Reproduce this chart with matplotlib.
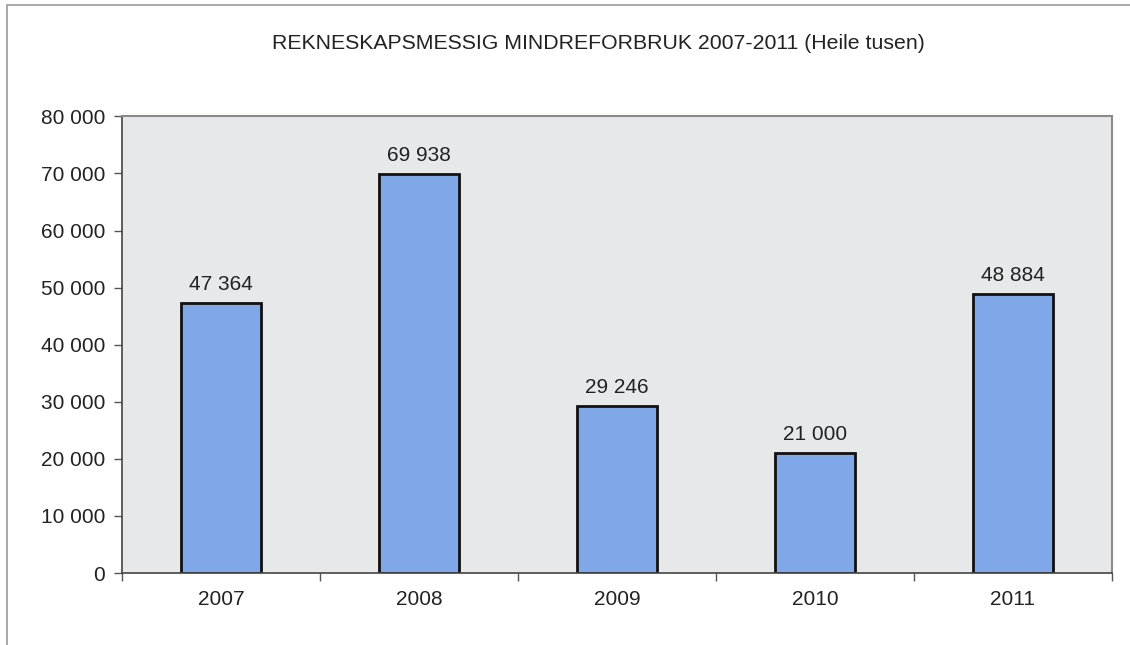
import numpy as np
import matplotlib
matplotlib.use("Agg")
import matplotlib.pyplot as plt
from matplotlib.ticker import FuncFormatter, FixedLocator

plt.rcParams['font.family'] = ['Liberation Sans', 'DejaVu Sans']

years = ['2007', '2008', '2009', '2010', '2011']
values = [47364, 69938, 29246, 21000, 48884]
title = 'REKNESKAPSMESSIG MINDREFORBRUK 2007-2011 (Heile tusen)'


def space_thousands(v, pos=None):
    return '{:,.0f}'.format(v).replace(',', ' ')


fig = plt.figure(figsize=(11.3, 6.45), dpi=100)

# outer chart frame
frame = plt.Rectangle((0.006, -0.01), 1.2, 1.002, transform=fig.transFigure,
                      fill=False, edgecolor='#9a9a9a', linewidth=1.2)
fig.patches.append(frame)

ax = fig.add_axes([0.108, 0.1116, 0.876, 0.708])
ax.set_facecolor('#e6e8ea')

x = np.arange(len(years))
ax.bar(x, values, width=0.4, color='#80a8e8', edgecolor='#111111', linewidth=2)

for xi, v in zip(x, values):
    ax.text(xi, v + 1600, space_thousands(v), ha='center', va='bottom', fontsize=15,
            color='#222222')

ax.set_xlim(-0.5, len(years) - 0.5)
ax.set_ylim(0, 80000)
ax.set_yticks(np.arange(0, 80001, 10000))
ax.yaxis.set_major_formatter(FuncFormatter(space_thousands))

ax.set_xticks(x)
ax.set_xticklabels(years)
ax.xaxis.set_minor_locator(FixedLocator(np.arange(-0.5, len(years), 1.0)))
ax.tick_params(axis='x', which='major', length=0, pad=12, labelsize=15, labelcolor='#222222')
ax.tick_params(axis='x', which='minor', length=6, width=1, color='#555555', direction='out')
ax.tick_params(axis='y', length=6, width=1, color='#555555', pad=6, labelsize=15,
               labelcolor='#222222')

for side in ['left', 'bottom']:
    ax.spines[side].set_color('#444444')
    ax.spines[side].set_linewidth(1.2)
for side in ['top', 'right']:
    ax.spines[side].set_color('#8a8a8a')
    ax.spines[side].set_linewidth(1.5)

fig.text(0.530, 0.932, title, ha='center', va='center', fontsize=15.3, color='#222222')

fig.savefig('out.png', dpi=100)
